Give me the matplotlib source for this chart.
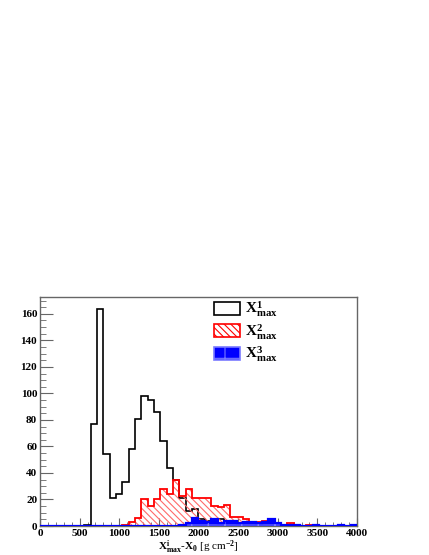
import numpy as np
import matplotlib
matplotlib.use('Agg')
import matplotlib.pyplot as plt
from matplotlib.patches import Patch
from matplotlib.ticker import MultipleLocator

# 50 bins of 80 g/cm2 from 0 to 4000
edges = np.arange(0, 4001, 80)

h1 = [0, 0, 0, 0, 0, 0, 0, 1, 77, 164,
      54, 21, 24, 33, 58, 81, 98, 95, 86, 64,
      44, 35, 21, 11, 13, 5, 4, 4, 5, 1,
      0, 0, 0, 0, 0, 0, 0, 0, 0, 0,
      0, 0, 0, 0, 0, 0, 0, 0, 0, 0]

h2 = [0, 0, 0, 0, 0, 0, 0, 0, 0, 0,
      0, 0, 0, 1, 3, 6, 20, 15, 20, 28,
      24, 35, 23, 28, 21, 21, 21, 15, 14, 16,
      7, 7, 5, 3, 3, 4, 1, 1, 1, 2,
      1, 0, 1, 0, 0, 0, 0, 1, 0, 0]

h3 = [0, 0, 0, 0, 0, 0, 0, 0, 0, 0,
      0, 0, 0, 0, 0, 0, 0, 0, 0, 0,
      0, 0, 1, 2, 6, 4, 3, 5, 2, 4,
      4, 2, 3, 3, 2, 3, 5, 2, 1, 1,
      1, 0, 0, 1, 0, 0, 0, 1, 0, 1]

labels = [r'$\mathbf{X^{1}_{max}}$', r'$\mathbf{X^{2}_{max}}$', r'$\mathbf{X^{3}_{max}}$']

plt.rcParams['font.family'] = 'Liberation Serif'
plt.rcParams['font.weight'] = 'bold'
plt.rcParams['mathtext.fontset'] = 'custom'
plt.rcParams['mathtext.rm'] = 'Liberation Serif:bold'
plt.rcParams['mathtext.bf'] = 'Liberation Serif:bold'
plt.rcParams['mathtext.it'] = 'Liberation Serif:bold'
plt.rcParams['hatch.linewidth'] = 0.8

fig = plt.figure(figsize=(4.29, 5.55), dpi=100)
ax = fig.add_axes([40 / 429, 1 - 526 / 555, 317 / 429, 229 / 555])

ax.stairs(h1, edges, color='black', lw=1.2, zorder=2)
ax.stairs(h2, edges, fill=True, facecolor='none', edgecolor='#ff6a6a',
          hatch='\\\\\\\\\\', lw=0, zorder=3)
ax.stairs(h2, edges, color='red', lw=1.3, zorder=4)
ax.stairs(h3, edges, fill=True, facecolor='blue', edgecolor='#7a7aff',
          hatch='+', lw=0, zorder=5)
ax.stairs(h3, edges, color='blue', lw=1.6, zorder=6)

ax.set_xlim(0, 4000)
ax.set_ylim(0, 164 * 1.053)

ax.xaxis.set_major_locator(MultipleLocator(500))
ax.xaxis.set_minor_locator(MultipleLocator(100))
ax.yaxis.set_major_locator(MultipleLocator(20))
ax.yaxis.set_minor_locator(MultipleLocator(5))
ax.tick_params(which='both', direction='in', colors='#666666', labelcolor='black',
               labelsize=8, pad=2)
ax.tick_params(axis='x', which='major', length=6)
ax.tick_params(axis='x', which='minor', length=3)
ax.tick_params(axis='y', which='major', length=9)
ax.tick_params(axis='y', which='minor', length=4.5)
for s in ax.spines.values():
    s.set_color('#666666')
    s.set_linewidth(1.0)

ax.set_xlabel(r'$\mathbf{X^{i}_{max}}$-$\mathbf{X_{0}}$ [g cm$^{-2}$]', fontsize=8, labelpad=1)

handles = [Patch(facecolor='white', edgecolor='black', lw=1.2),
           Patch(facecolor='white', edgecolor='red', hatch='\\\\\\\\\\', lw=1.2),
           Patch(facecolor='blue', edgecolor='#7a7aff', hatch='+', lw=1.2)]
ax.legend(handles, labels, loc='upper left', bbox_to_anchor=(0.515, 1.035),
          frameon=False, fontsize=11, handlelength=1.7, handleheight=0.95,
          labelspacing=0.2, handletextpad=0.3, borderpad=0.2)

fig.savefig('out.png', dpi=100)
